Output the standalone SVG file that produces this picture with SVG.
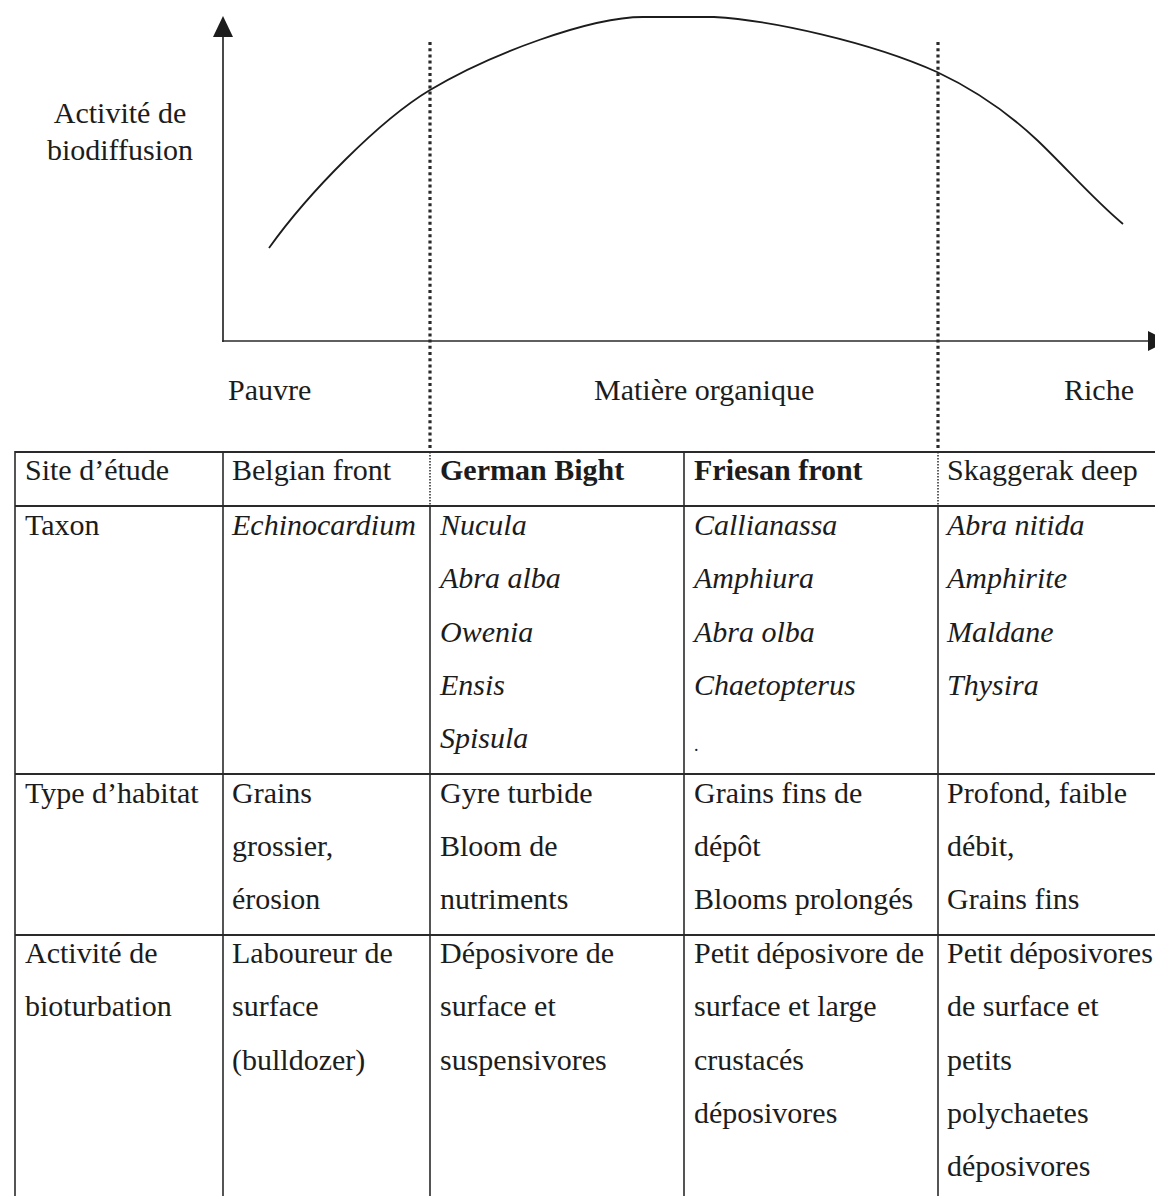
<svg xmlns="http://www.w3.org/2000/svg" width="1155" height="1196" viewBox="0 0 1155 1196">
<style>
text{font-family:"Liberation Serif","Times New Roman",serif;font-size:30px;fill:#1c1c1c}
.i{font-style:italic}
.b{font-weight:bold}
.ax{stroke:#2a2a2a;stroke-width:1.7;fill:none}
.cv{stroke:#1c1c1c;stroke-width:1.8;fill:none}
.dot{stroke:#2a2a2a;stroke-width:3.2;stroke-dasharray:3 3.2;fill:none}
.dotf{stroke:#2a2a2a;stroke-width:1.5;stroke-dasharray:1.5 1.5;fill:none}
.tl{stroke:#2a2a2a;stroke-width:1.6;fill:none}
.th{stroke:#2a2a2a;stroke-width:2;fill:none}
</style>
<rect width="1155" height="1196" fill="#fff"/>
<g id="chart">
  <g id="axes">
    <line class="ax" x1="223" y1="342" x2="223" y2="34"/>
    <polygon points="223,16 213,37 233,37" fill="#1c1c1c"/>
    <line class="ax" x1="222" y1="341" x2="1150" y2="341"/>
    <polygon points="1148,331 1148,351 1168,341" fill="#1c1c1c"/>
  </g>
  <path id="curve" class="cv" d="M269,248 C309,192 380,120 430,90 C490,54 590,17 643,17 L714,17 C770,20 870,42 937,72 C970,87.5 1004,109 1037,140 C1066,167.5 1094,200 1123,224"/>
  <g id="dividers">
    <line class="dot" x1="430" y1="42" x2="430" y2="452"/>
    <line class="dot" x1="938" y1="42" x2="938" y2="452"/>
  </g>
  <g id="axis-labels">
    <text x="120" y="123" text-anchor="middle">Activité de</text>
    <text x="120" y="160" text-anchor="middle">biodiffusion</text>
    <text x="228" y="400">Pauvre</text>
    <text x="594" y="400">Matière organique</text>
    <text x="1064" y="400">Riche</text>
  </g>
</g>
<g id="table-grid">
  <line class="th" x1="15" y1="452" x2="1155" y2="452"/>
  <line class="th" x1="15" y1="506" x2="1155" y2="506"/>
  <line class="th" x1="15" y1="774" x2="1155" y2="774"/>
  <line class="th" x1="15" y1="935" x2="1155" y2="935"/>
  <line class="tl" x1="15" y1="451" x2="15" y2="1196"/>
  <line class="tl" x1="223" y1="451" x2="223" y2="1196"/>
  <line class="dotf" x1="430" y1="452" x2="430" y2="506"/>
  <line class="tl" x1="430" y1="506" x2="430" y2="1196"/>
  <line class="tl" x1="684" y1="451" x2="684" y2="1196"/>
  <line class="dotf" x1="938" y1="452" x2="938" y2="506"/>
  <line class="tl" x1="938" y1="506" x2="938" y2="1196"/>
</g>
<g id="row-site">
  <text x="25" y="480">Site d’étude</text>
  <text x="232" y="480">Belgian front</text>
  <text x="440" y="480" class="b">German Bight</text>
  <text x="694" y="480" class="b">Friesan front</text>
  <text x="947" y="480">Skaggerak deep</text>
</g>
<g id="row-taxon">
  <text x="25" y="535">Taxon</text>
  <text x="232" y="535" class="i">Echinocardium</text>
  <text x="440" y="535" class="i">Nucula</text>
  <text x="440" y="588" class="i">Abra alba</text>
  <text x="440" y="642" class="i">Owenia</text>
  <text x="440" y="695" class="i">Ensis</text>
  <text x="440" y="748" class="i">Spisula</text>
  <text x="694" y="535" class="i">Callianassa</text>
  <text x="694" y="588" class="i">Amphiura</text>
  <text x="694" y="642" class="i">Abra olba</text>
  <text x="694" y="695" class="i">Chaetopterus</text>
  <text x="694" y="751" style="font-size:18px">.</text>
  <text x="947" y="535" class="i">Abra nitida</text>
  <text x="947" y="588" class="i">Amphirite</text>
  <text x="947" y="642" class="i">Maldane</text>
  <text x="947" y="695" class="i">Thysira</text>
</g>
<g id="row-habitat">
  <text x="25" y="803">Type d’habitat</text>
  <text x="232" y="803">Grains</text>
  <text x="232" y="856">grossier,</text>
  <text x="232" y="909">érosion</text>
  <text x="440" y="803">Gyre turbide</text>
  <text x="440" y="856">Bloom de</text>
  <text x="440" y="909">nutriments</text>
  <text x="694" y="803">Grains fins de</text>
  <text x="694" y="856">dépôt</text>
  <text x="694" y="909">Blooms prolongés</text>
  <text x="947" y="803">Profond, faible</text>
  <text x="947" y="856">débit,</text>
  <text x="947" y="909">Grains fins</text>
</g>
<g id="row-bioturbation">
  <text x="25" y="963">Activité de</text>
  <text x="25" y="1016">bioturbation</text>
  <text x="232" y="963">Laboureur de</text>
  <text x="232" y="1016">surface</text>
  <text x="232" y="1070">(bulldozer)</text>
  <text x="440" y="963">Déposivore de</text>
  <text x="440" y="1016">surface et</text>
  <text x="440" y="1070">suspensivores</text>
  <text x="694" y="963">Petit déposivore de</text>
  <text x="694" y="1016">surface et large</text>
  <text x="694" y="1070">crustacés</text>
  <text x="694" y="1123">déposivores</text>
  <text x="947" y="963">Petit déposivores</text>
  <text x="947" y="1016">de surface et</text>
  <text x="947" y="1070">petits</text>
  <text x="947" y="1123">polychaetes</text>
  <text x="947" y="1176">déposivores</text>
</g>
</svg>
